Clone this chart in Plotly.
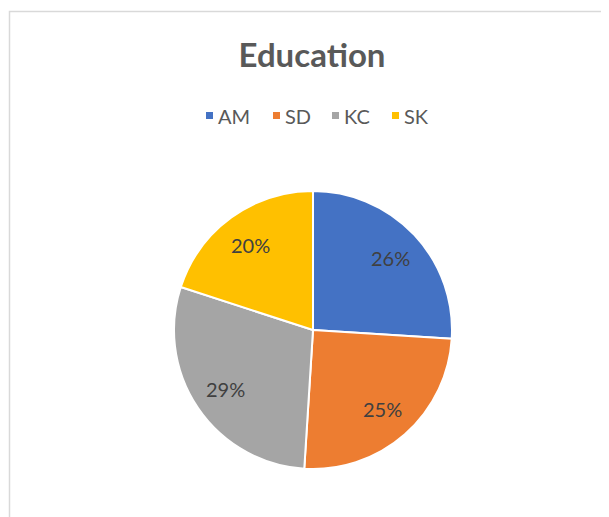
import math
import plotly.graph_objects as go

# data
labels = ["AM", "SD", "KC", "SK"]
values = [26, 25, 29, 20]
colors = ["#4472C4", "#ED7D31", "#A5A5A5", "#FFC000"]

W, H = 609, 517
OFF = 8  # page body margin
cx, cy, r = 313 - OFF, 330 - OFF, 139
FONT = "Lato, Open Sans, sans-serif"
legend_x = [206, 273, 332, 392]  # left edge of each legend key (page px)

fig = go.Figure()
fig.add_trace(go.Pie(
    labels=labels, values=values, sort=False, direction="clockwise", rotation=0,
    marker=dict(colors=colors, line=dict(color="white", width=2)),
    textinfo="none", hoverinfo="label+percent", showlegend=False,
    domain=dict(x=[(cx - r) / W, (cx + r) / W], y=[(H - cy - r) / H, (H - cy + r) / H]),
))

# percent labels placed like Excel's inside labels
total = sum(values)
acc = 0
for lab, v in zip(labels, values):
    mid = (acc + v / 2) / total * 2 * math.pi
    acc += v
    rr = 0.76 * r
    px = cx + rr * math.sin(mid)
    py = cy - rr * math.cos(mid)
    fig.add_annotation(x=px / W, y=1 - py / H, xref="paper", yref="paper",
                       xanchor="center", yanchor="middle",
                       text=f"{round(v / total * 100)}%", showarrow=False,
                       font=dict(family=FONT, size=20, color="#404040"))

# Excel-style legend: small square key + label
shapes = []
for lab, c, lx in zip(labels, colors, legend_x):
    x0 = lx - OFF
    shapes.append(dict(type="rect", xref="paper", yref="paper",
                       x0=x0 / W, x1=(x0 + 7) / W, y0=1 - (119 - OFF) / H, y1=1 - (112 - OFF) / H,
                       line=dict(width=0), fillcolor=c))
    fig.add_annotation(x=(x0 + 10) / W, y=1 - (116 - OFF) / H, xref="paper", yref="paper",
                       xanchor="left", yanchor="middle", showarrow=False, text=lab,
                       font=dict(family=FONT, size=20, color="#595959"))

shapes.append(dict(type="rect", xref="paper", yref="paper",
                   x0=(9.5 - OFF) / W, x1=1.02, y0=-0.02, y1=1 - (11.5 - OFF) / H,
                   line=dict(color="#D9D9D9", width=1.5), fillcolor="rgba(0,0,0,0)"))

fig.update_layout(
    width=W, height=H,
    margin=dict(l=0, r=0, t=0, b=0),
    paper_bgcolor="white",
    showlegend=False,
    title=dict(text="<b>Education</b>", x=(312 - OFF) / W, xanchor="center", y=1 - (55 - OFF) / H, yanchor="middle",
               font=dict(family=FONT, size=33, color="#595959")),
    shapes=shapes,
)

fig.write_html("out.html")
